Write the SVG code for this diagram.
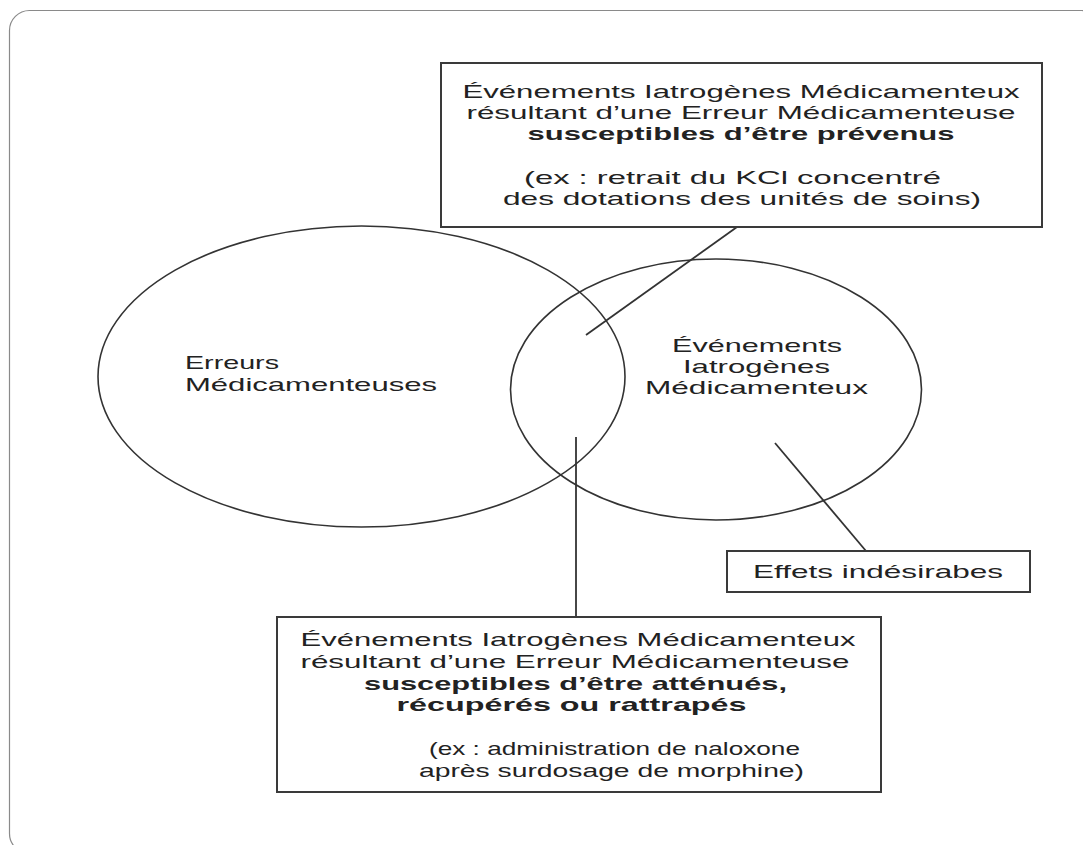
<svg xmlns="http://www.w3.org/2000/svg" width="1083" height="845" viewBox="0 0 1083 845">
<style>
.frame{fill:none;stroke:#8a8a8a;stroke-width:1.2}
.ell{fill:none;stroke:#333;stroke-width:1.6}
.box{fill:#fff;stroke:#3a3a3a;stroke-width:2}
.conn{stroke:#333;stroke-width:1.8;fill:none}
text{font-family:"Liberation Sans",Arial,sans-serif;font-size:18px;fill:#222}
.b{font-weight:bold}
</style>
<rect class="frame" x="9.5" y="10.5" width="1092" height="843" rx="20" ry="20"/>
<g id="erreurs">
<ellipse class="ell" cx="361.5" cy="376.5" rx="263.5" ry="150.5"/>
<text transform="scale(1.7,1)" x="108.82" y="369" textLength="55.29" lengthAdjust="spacingAndGlyphs">Erreurs</text>
<text transform="scale(1.7,1)" x="108.82" y="391" textLength="148.24" lengthAdjust="spacingAndGlyphs">Médicamenteuses</text>
</g>
<g id="eim">
<ellipse class="ell" cx="716" cy="389.5" rx="205.5" ry="130.5"/>
<text transform="scale(1.7,1)" x="395.29" y="352" textLength="100" lengthAdjust="spacingAndGlyphs">Événements</text>
<text transform="scale(1.7,1)" x="401.76" y="373" textLength="86.47" lengthAdjust="spacingAndGlyphs">Iatrogènes</text>
<text transform="scale(1.7,1)" x="379.41" y="394" textLength="131.18" lengthAdjust="spacingAndGlyphs">Médicamenteux</text>
</g>
<g id="connectors">
<line class="conn" x1="737" y1="227" x2="586" y2="335"/>
<line class="conn" x1="576" y1="437" x2="576" y2="617"/>
<line class="conn" x1="775" y1="443" x2="866" y2="551"/>
</g>
<g id="prevenus">
<rect class="box" x="441" y="63" width="601" height="164"/>
<text transform="scale(1.7,1)" x="272.06" y="98" textLength="327.65" lengthAdjust="spacingAndGlyphs">Événements Iatrogènes Médicamenteux</text>
<text transform="scale(1.7,1)" x="274.41" y="119" textLength="322.94" lengthAdjust="spacingAndGlyphs">résultant d’une Erreur Médicamenteuse</text>
<text class="b" transform="scale(1.7,1)" x="310.29" y="140" textLength="251.18" lengthAdjust="spacingAndGlyphs">susceptibles d’être prévenus</text>
<text transform="scale(1.7,1)" x="308.24" y="184" textLength="245.29" lengthAdjust="spacingAndGlyphs">(ex : retrait du KCl concentré</text>
<text transform="scale(1.7,1)" x="295.88" y="205" textLength="281.18" lengthAdjust="spacingAndGlyphs">des dotations des unités de soins)</text>
</g>
<g id="attenues">
<rect class="box" x="277" y="617" width="604" height="175"/>
<text transform="scale(1.7,1)" x="176.76" y="646" textLength="326.47" lengthAdjust="spacingAndGlyphs">Événements Iatrogènes Médicamenteux</text>
<text transform="scale(1.7,1)" x="176.76" y="668" textLength="322.94" lengthAdjust="spacingAndGlyphs">résultant d’une Erreur Médicamenteuse</text>
<text class="b" transform="scale(1.7,1)" x="214.12" y="690" textLength="248.82" lengthAdjust="spacingAndGlyphs">susceptibles d’être atténués,</text>
<text class="b" transform="scale(1.7,1)" x="233.24" y="711" textLength="205.88" lengthAdjust="spacingAndGlyphs">récupérés ou rattrapés</text>
<text transform="scale(1.7,1)" x="252.35" y="755" textLength="218.24" lengthAdjust="spacingAndGlyphs">(ex : administration de naloxone</text>
<text transform="scale(1.7,1)" x="246.47" y="777" textLength="226.47" lengthAdjust="spacingAndGlyphs">après surdosage de morphine)</text>
</g>
<g id="effets">
<rect class="box" x="727" y="551" width="303" height="41"/>
<text transform="scale(1.7,1)" x="442.94" y="578" textLength="147.06" lengthAdjust="spacingAndGlyphs">Effets indésirabes</text>
</g>
</svg>
